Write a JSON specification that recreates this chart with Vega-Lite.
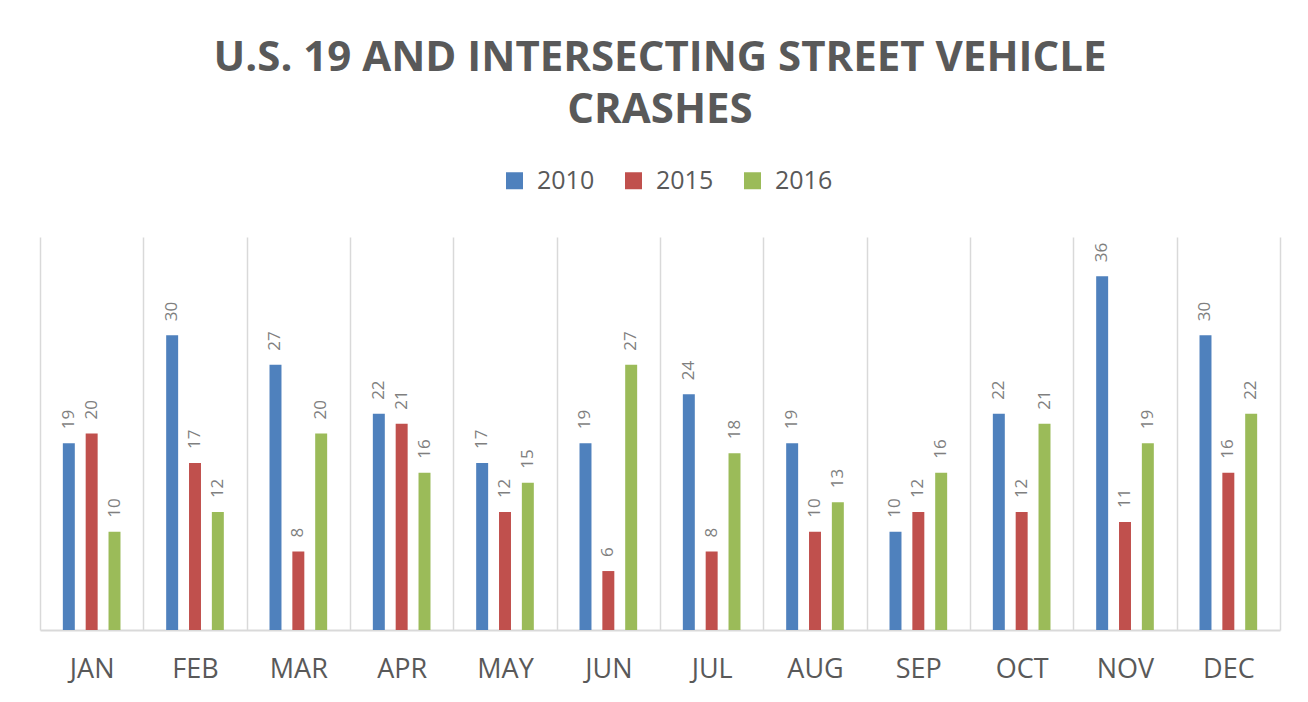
{
  "$schema": "https://vega.github.io/schema/vega-lite/v6.json",
  "width": 1240,
  "height": 393,
  "autosize": {"type": "none"},
  "padding": {"left": 40, "top": 237, "right": 28, "bottom": 72},
  "background": "white",
  "config": {"view": {"stroke": null}, "font": "Open Sans"},
  "title": {
    "text": ["U.S. 19 AND INTERSECTING STREET VEHICLE", "CRASHES"],
    "fontSize": 42,
    "fontWeight": "bold",
    "color": "#595959",
    "font": "Open Sans",
    "lineHeight": 52,
    "anchor": "middle",
    "baseline": "bottom",
    "offset": -6
  },
  "data": {
    "values": [
      {"month": "JAN", "year": "2010", "crashes": 19},
      {"month": "JAN", "year": "2015", "crashes": 20},
      {"month": "JAN", "year": "2016", "crashes": 10},
      {"month": "FEB", "year": "2010", "crashes": 30},
      {"month": "FEB", "year": "2015", "crashes": 17},
      {"month": "FEB", "year": "2016", "crashes": 12},
      {"month": "MAR", "year": "2010", "crashes": 27},
      {"month": "MAR", "year": "2015", "crashes": 8},
      {"month": "MAR", "year": "2016", "crashes": 20},
      {"month": "APR", "year": "2010", "crashes": 22},
      {"month": "APR", "year": "2015", "crashes": 21},
      {"month": "APR", "year": "2016", "crashes": 16},
      {"month": "MAY", "year": "2010", "crashes": 17},
      {"month": "MAY", "year": "2015", "crashes": 12},
      {"month": "MAY", "year": "2016", "crashes": 15},
      {"month": "JUN", "year": "2010", "crashes": 19},
      {"month": "JUN", "year": "2015", "crashes": 6},
      {"month": "JUN", "year": "2016", "crashes": 27},
      {"month": "JUL", "year": "2010", "crashes": 24},
      {"month": "JUL", "year": "2015", "crashes": 8},
      {"month": "JUL", "year": "2016", "crashes": 18},
      {"month": "AUG", "year": "2010", "crashes": 19},
      {"month": "AUG", "year": "2015", "crashes": 10},
      {"month": "AUG", "year": "2016", "crashes": 13},
      {"month": "SEP", "year": "2010", "crashes": 10},
      {"month": "SEP", "year": "2015", "crashes": 12},
      {"month": "SEP", "year": "2016", "crashes": 16},
      {"month": "OCT", "year": "2010", "crashes": 22},
      {"month": "OCT", "year": "2015", "crashes": 12},
      {"month": "OCT", "year": "2016", "crashes": 21},
      {"month": "NOV", "year": "2010", "crashes": 36},
      {"month": "NOV", "year": "2015", "crashes": 11},
      {"month": "NOV", "year": "2016", "crashes": 19},
      {"month": "DEC", "year": "2010", "crashes": 30},
      {"month": "DEC", "year": "2015", "crashes": 16},
      {"month": "DEC", "year": "2016", "crashes": 22}
    ]
  },
  "encoding": {
    "x": {
      "field": "month",
      "type": "nominal",
      "sort": ["JAN","FEB","MAR","APR","MAY","JUN","JUL","AUG","SEP","OCT","NOV","DEC"],
      "scale": {"paddingInner": 0, "paddingOuter": 0},
      "axis": {
        "title": null,
        "labelAngle": 0,
        "labelFontSize": 27,
        "labelColor": "#595959",
        "labelFont": "Open Sans",
        "labelPadding": 26,
        "ticks": false,
        "tickBand": "extent",
        "grid": true,
        "gridColor": "#d9d9d9",
        "gridWidth": 1.5,
        "domainColor": "#d9d9d9",
        "domainWidth": 2
      }
    },
    "xOffset": {
      "field": "year",
      "type": "nominal",
      "scale": {"paddingInner": 0.476, "paddingOuter": 1.2}
    },
    "y": {
      "field": "crashes",
      "type": "quantitative",
      "scale": {"domain": [0, 40], "nice": false},
      "axis": null
    }
  },
  "layer": [
    {
      "mark": {"type": "bar"},
      "encoding": {
        "color": {
          "field": "year",
          "type": "nominal",
          "scale": {"domain": ["2010", "2015", "2016"], "range": ["#4F81BD", "#C0504D", "#9BBB59"]},
          "legend": {
            "title": null,
            "orient": "none",
            "direction": "horizontal",
            "legendX": 462,
            "legendY": -69,
            "symbolType": "square",
            "symbolSize": 289,
            "symbolStrokeWidth": 0,
            "symbolOpacity": 1,
            "labelFontSize": 25,
            "labelColor": "#595959",
            "labelFont": "Open Sans",
            "labelOffset": 10,
            "columnPadding": 26
          }
        }
      }
    },
    {
      "mark": {
        "type": "text",
        "angle": 270,
        "align": "left",
        "baseline": "middle",
        "dx": 14,
        "fontSize": 17,
        "font": "Open Sans",
        "color": "#7f7f7f"
      },
      "encoding": {
        "text": {"field": "crashes", "type": "quantitative"}
      }
    }
  ]
}
